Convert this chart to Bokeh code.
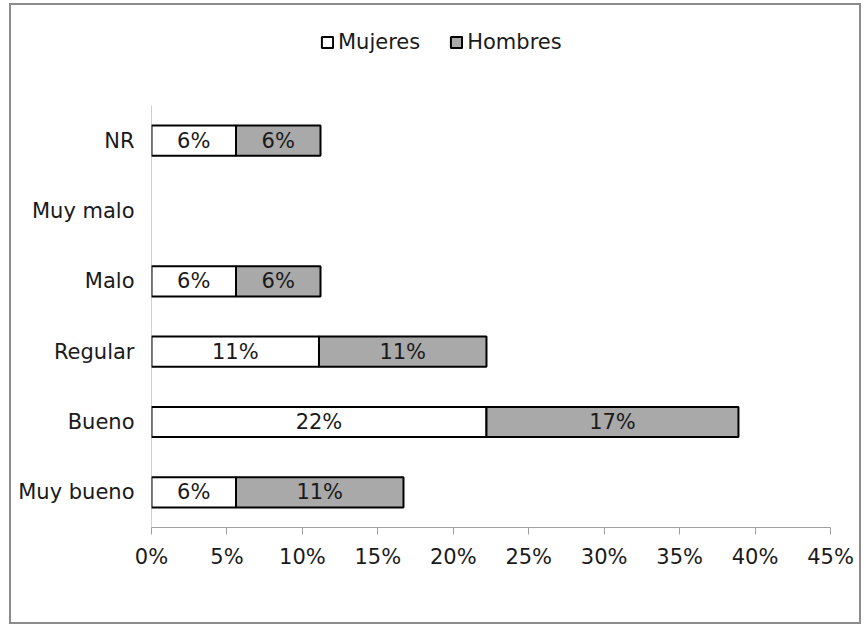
from bokeh.plotting import figure
from bokeh.models import (ColumnDataSource, Range1d, NumeralTickFormatter,
                          FixedTicker, Legend, LegendItem)
from bokeh.core.properties import value
from bokeh.embed import file_html
from bokeh.resources import INLINE

categories = ["Muy bueno", "Bueno", "Regular", "Malo", "Muy malo", "NR"]
mujeres = [0.056, 0.222, 0.111, 0.056, 0.0, 0.056]
hombres = [0.111, 0.167, 0.111, 0.056, 0.0, 0.056]
series = ["Mujeres", "Hombres"]
x_ticks = [0.0, 0.05, 0.10, 0.15, 0.20, 0.25, 0.30, 0.35, 0.40, 0.45]

FONT = "DejaVu Sans"
TXT = "#1a1a1a"
AX = "#a0a0a0"

n = len(categories)
ypos = list(range(n))
outline_alpha = [1.0 if (m + h) > 0 else 0.0 for m, h in zip(mujeres, hombres)]
source = ColumnDataSource(dict(y=ypos, Mujeres=mujeres, Hombres=hombres, la=outline_alpha))

# layout: frame spans local y 10..522; category area is the lower 422 px
frame_h = 512
cat_h = 422
y_top = -0.5 + n * frame_h / cat_h

p = figure(width=852, height=621, output_backend="svg", toolbar_location=None,
           y_range=Range1d(-0.5, y_top), x_range=Range1d(0, 0.45),
           min_border_left=140, min_border_right=33, min_border_top=10, min_border_bottom=99)
p.margin = (3, 0, 0, 9)
p.styles = {"border": "2px solid #8c8c8c"}
p.outline_line_color = None
p.xgrid.grid_line_color = None
p.ygrid.grid_line_color = None

# value-axis line, only along the category area
p.segment(x0=[0], y0=[-0.5], x1=[0], y1=[n - 0.5], line_color=AX, line_width=1)

rs = p.hbar_stack(series, y="y", height=0.43, source=source,
                  fill_color=["white", "#a9a9a9"], line_color="black", line_width=2,
                  line_alpha="la")

# value labels
lx, ly, lt = [], [], []
for i, (m, h) in enumerate(zip(mujeres, hombres)):
    if m > 0:
        lx.append(m / 2); ly.append(i); lt.append(f"{round(m * 100)}%")
    if h > 0:
        lx.append(m + h / 2); ly.append(i); lt.append(f"{round(h * 100)}%")
p.text(x=lx, y=ly, text=lt, text_align="center", text_baseline="middle",
       text_font=value(FONT), text_font_size="21px", text_color=TXT)

# axes
p.xaxis.ticker = FixedTicker(ticks=x_ticks)
p.xaxis.formatter = NumeralTickFormatter(format="0%")
p.xaxis.minor_tick_line_color = None
p.xaxis.major_tick_out = 7
p.xaxis.major_tick_in = 0
p.xaxis.axis_line_color = AX
p.xaxis.major_tick_line_color = AX
p.xaxis.major_label_standoff = 10
p.yaxis.ticker = FixedTicker(ticks=ypos)
p.yaxis.major_label_overrides = {i: c for i, c in enumerate(categories)}
p.yaxis.major_tick_line_color = None
p.yaxis.minor_tick_line_color = None
p.yaxis.axis_line_color = None
p.yaxis.major_label_standoff = 11
for ax in (p.xaxis, p.yaxis):
    ax.major_label_text_font = FONT
    ax.major_label_text_font_size = "21px"
    ax.major_label_text_color = TXT

legend = Legend(items=[LegendItem(label=s, renderers=[r]) for s, r in zip(series, rs)],
                orientation="horizontal", location=(169, 473),
                padding=0, margin=0, spacing=29, label_standoff=4,
                glyph_width=14, glyph_height=14,
                border_line_color=None, background_fill_alpha=0,
                label_text_font=FONT, label_text_font_size="21px", label_text_color=TXT)
p.add_layout(legend, "center")

open("out.html", "w").write(file_html(p, INLINE))
